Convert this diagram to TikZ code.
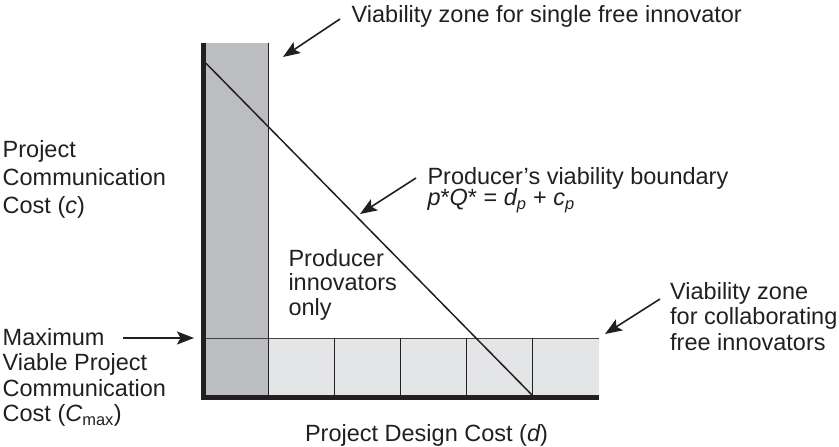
\documentclass[tikz,border=0pt]{standalone}
\usepackage{fontspec}
\setmainfont{Liberation Sans}
\usetikzlibrary{arrows.meta}
\definecolor{ink}{RGB}{35,31,32}
\definecolor{colgray}{RGB}{188,189,192}
\definecolor{bandgray}{RGB}{228,229,231}
\tikzset{
  lbl/.style={inner sep=0pt, anchor=base west, align=left, text=ink, font=\fontsize{23.5}{#1}\selectfont},
  lbl/.default=25.5,
  pointer/.style={draw=ink, line width=1.6pt, -{Stealth[length=17pt,width=13pt,inset=3.5pt]}},
  thin/.style={draw=ink, line width=1.3pt},
  axis/.style={draw=ink, line width=4.7pt, line join=miter}
}
\begin{document}
\begin{tikzpicture}[x=1pt,y=-1pt]
\useasboundingbox (0,0) rectangle (839,447);
% zones
\fill[bandgray] (268.3,338.3) rectangle (599.3,397);
\fill[colgray] (203.4,42.7) rectangle (268.3,397);
% corner coordinates
\coordinate (top) at (203.4,42.7);
\coordinate (orig) at (203.4,397.2);
\coordinate (xend) at (599.3,397.2);
\coordinate (colT) at (268.3,42.7);
\coordinate (colB) at (268.3,397);
\coordinate (bandL) at (203.4,338.3);
\coordinate (bandR) at (599.3,338.3);
% band grid
\draw[draw=ink!85, line width=1.3pt] (bandL) -- (bandR);
\draw[thin] (colT) -- (colB);
\foreach \x/\n in {334.3/a,400.7/b,466.7/c,532.7/d}{
  \coordinate (g\n t) at (\x,338.3);
  \coordinate (g\n b) at (\x,397);
  \draw[thin] (g\n t) -- (g\n b);
}
% diagonal boundary
\coordinate (diagS) at (206,63.3);
\coordinate (diagE) at (532,395);
\draw[draw=ink, line width=1.5pt] (diagS) -- (diagE);
% axes
\draw[axis] (top) -- (orig) -- (xend);
% labels (base anchor = baseline of the last line)
\node[lbl] (single) at (351.5,22.5) {Viability zone for single free innovator};
\node[lbl=28] (ylab) at (2.5,213.5) {Project\\Communication\\Cost ({\itshape c})};
\node[lbl=25.3] (cmax) at (2.5,421.5) {Maximum\\Viable Project\\Communication\\Cost ({\itshape C}\textsubscript{max})};
\node[lbl=24.5] (prod) at (288.3,315) {Producer\\innovators\\only};
\node[lbl=25.5] (collab) at (670,350.3) {Viability zone\\for collaborating\\free innovators};
\node[lbl] (bound) at (427.3,184) {Producer’s viability boundary};
\node[lbl] (formula) at (427.3,205.5) {{\itshape p}*{\itshape Q}* = {\itshape d\textsubscript{p}} + {\itshape c\textsubscript{p}}};
\node[lbl, anchor=base] (xlab) at (426.5,441) {Project Design Cost ({\itshape d})};
% pointers
\coordinate (p1s) at (340,19);   \coordinate (p1e) at (283,57);
\coordinate (p2s) at (416,178);  \coordinate (p2e) at (360,214);
\coordinate (p3s) at (660,299);  \coordinate (p3e) at (605,334);
\coordinate (p4s) at (123,338);  \coordinate (p4e) at (194,338);
\draw[pointer] (p1s) -- (p1e);
\draw[pointer] (p2s) -- (p2e);
\draw[pointer] (p3s) -- (p3e);
\draw[pointer] (p4s) -- (p4e);
\end{tikzpicture}
\end{document}
